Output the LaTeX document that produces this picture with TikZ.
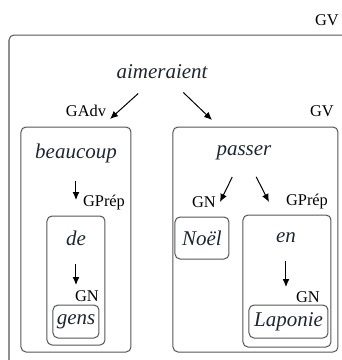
\documentclass[tikz,border=0pt]{standalone}
\usepackage{fontspec}
\setmainfont{Liberation Serif}
\usepackage{xcolor}
\usetikzlibrary{arrows.meta,positioning}

\definecolor{framegray}{RGB}{85,85,85}
\definecolor{wordblue}{RGB}{30,38,52}

\begin{document}
\begin{tikzpicture}[x=0.5pt, y=-0.5pt,
    word/.style={font=\fontsize{10.5}{12}\selectfont\itshape, text=wordblue, inner sep=1pt},
    tag/.style={font=\fontsize{8.2}{10}\selectfont, inner sep=1pt},
    frame/.style={draw=framegray, line width=0.5pt, rounded corners=2.5pt, inner sep=0pt},
    wbox/.style={word, frame, minimum height=16.5pt},
    arr/.style={-{Latex[length=4pt,width=3.5pt]}, line width=0.5pt, shorten <=8pt}]

    \useasboundingbox (0,0) rectangle (342,360);

    % outer GV
    \draw[frame] (9,35) rectangle (360,380);
    \node[tag] (gvtop) at (327,20) {GV};
    \node[word] (aim) at (162,72) {aimeraient};
    \node[tag] (gadv) at (86,111) {GAdv};
    \node[tag] (gvlab) at (322,111) {GV};

    % left: GAdv
    \node[frame, minimum width=55pt, minimum height=112.5pt] (advbox) at (76,239.5) {};
    \node[word] (beaucoup) at (76,153) {beaucoup};
    \node[tag] (gprepa) at (104,203) {GPrép};
    \node[frame, minimum width=29pt, minimum height=64.5pt] (prepboxa) at (76,280.5) {};
    \node[word] (de) at (76,238) {de};
    \node[tag] (gna) at (87,296) {GN};
    \node[wbox, minimum width=23pt] (gens) at (76,321.5) {gens};

    % right: GV
    \node[frame, minimum width=82.5pt, minimum height=112.5pt] (vbox) at (255.5,239.5) {};
    \node[word] (passer) at (244,153) {passer};
    \node[tag] (gnb) at (204,202) {GN};
    \node[tag] (gprepb) at (307,202) {GPrép};
    \node[wbox, minimum width=27pt, minimum height=21pt] (noel) at (202,238) {Noël};
    \node[frame, minimum width=44pt, minimum height=66pt] (prepboxb) at (287,281) {};
    \node[word] (en) at (286,238) {en};
    \node[tag] (gnc) at (308,297) {GN};
    \node[wbox, minimum width=39.5pt] (laponie) at (288.5,321.5) {Laponie};

    % arrow ends
    \coordinate (e1) at (110,119);
    \coordinate (e2) at (212,120);
    \coordinate (e3) at (76,200);
    \coordinate (e4) at (76,285);
    \coordinate (e5) at (220,202);
    \coordinate (e6) at (269,202);
    \coordinate (e7) at (286,287);

    \draw[arr, shorten <=9pt] (aim) -- (e1);
    \draw[arr] (aim) -- (e2);
    \draw[arr] (beaucoup) -- (e3);
    \draw[arr] (de) -- (e4);
    \draw[arr] (passer) -- (e5);
    \draw[arr] (passer) -- (e6);
    \draw[arr] (en) -- (e7);
\end{tikzpicture}
\end{document}
